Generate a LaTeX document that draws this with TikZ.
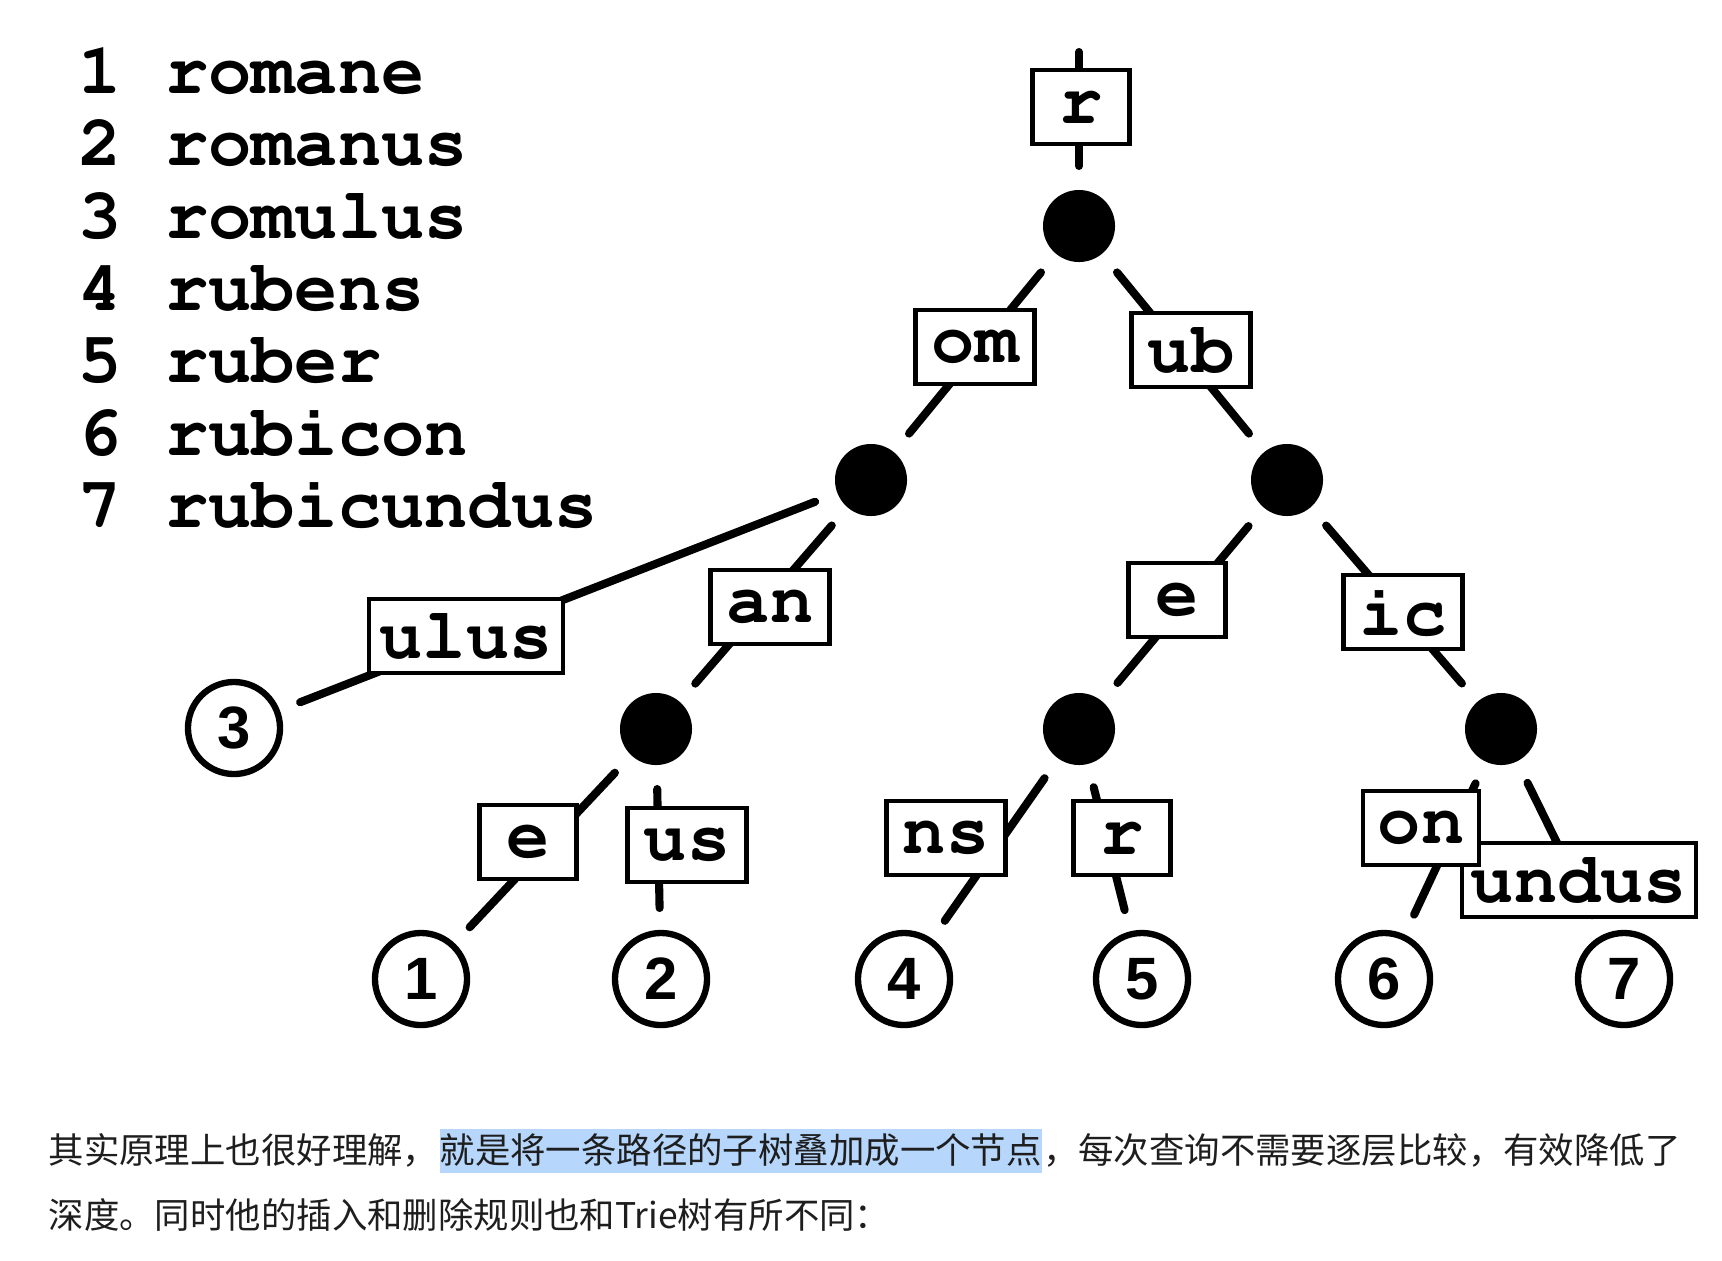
\documentclass[tikz,border=0pt]{standalone}
\usepackage[T1]{fontenc}
\usepackage{fontspec}
\usepackage{tikz}
\newfontfamily\cjkfont{Noto Sans CJK SC}
\newfontfamily\leaffont{Liberation Sans}
\newcommand\courbf{\fontencoding{T1}\fontfamily{pcr}\fontseries{b}\fontshape{n}\selectfont}
\definecolor{txtgray}{RGB}{30,30,30}
\definecolor{selblue}{RGB}{182,214,252}

\begin{document}
\begin{tikzpicture}[
    x=0.01cm, y=-0.01cm,
    word/.style={anchor=base west, inner sep=0pt, font=\fontsize{20.5}{24}\courbf},
    dot/.style={circle, fill=black, minimum size=0.72cm, inner sep=0pt, outer sep=0.24cm},
    leaf/.style={circle, draw, line width=1.8pt, minimum size=0.92cm, inner sep=0pt, outer sep=0.25cm, font=\fontsize{17}{19}\leaffont\bfseries},
    lbl/.style={draw, line width=1.3pt, fill=white, minimum width=1.19cm, minimum height=0.74cm, inner xsep=0.1cm, inner ysep=0pt, font=\fontsize{20.5}{24}\courbf},
    link/.style={line width=2.3pt, line cap=round},
    para/.style={anchor=base west, inner sep=0pt, text=txtgray, font=\fontsize{10.07}{12}\cjkfont}
  ]
  \useasboundingbox (0,0) rectangle (1722,1260);

  % Word list
  \node[word] (w1) at (78,93) {1 romane};
  \node[word] (w2) at (78,165) {2 romanus};
  \node[word] (w3) at (78,238) {3 romulus};
  \node[word] (w4) at (78,310) {4 rubens};
  \node[word] (w5) at (78,382) {5 ruber};
  \node[word] (w6) at (78,455) {6 rubicon};
  \node[word] (w7) at (78,527) {7 rubicundus};

  % Inner nodes
  \node[dot] (root) at (1079,226) {};
  \node[dot] (nom) at (871,480) {};
  \node[dot] (nub) at (1287,480) {};
  \node[dot] (nan) at (656,729) {};
  \node[dot] (ne) at (1079,729) {};
  \node[dot] (nic) at (1501,729) {};

  % Leaves
  \node[leaf] (l3) at (234,728) {3};
  \node[leaf] (l1) at (421,979) {1};
  \node[leaf] (l2) at (661,979) {2};
  \node[leaf] (l4) at (904,979) {4};
  \node[leaf] (l5) at (1142,979) {5};
  \node[leaf] (l6) at (1384,979) {6};
  \node[leaf] (l7) at (1624,979) {7};

  % Edges
  \coordinate (top) at (1079,52);
  \draw[link] (top) -- (root);
  \draw[link] (root) -- (nom);
  \draw[link] (root) -- (nub);
  \draw[link] (nom) -- (l3);
  \draw[link] (nom) -- (nan);
  \draw[link] (nan) -- (l1);
  \draw[link] (nan) -- (l2);
  \draw[link] (nub) -- (ne);
  \draw[link] (nub) -- (nic);
  \draw[link] (ne) -- (l4);
  \draw[link] (ne) -- (l5);
  \draw[link] (nic) -- (l6);
  \draw[link] (nic) -- (l7);

  % Edge labels
  \node[lbl, minimum width=0.97cm] (lr) at (1081,107) {r};
  \node[lbl] (lom) at (975,347) {om};
  \node[lbl] (lub) at (1191,350) {ub};
  \node[lbl, minimum width=1.94cm] (lulus) at (466,636) {ulus};
  \node[lbl] (lan) at (770,607) {an};
  \node[lbl, minimum width=0.97cm] (le1) at (528,842) {e};
  \node[lbl] (lus) at (687,845) {us};
  \node[lbl, minimum width=0.97cm] (le2) at (1177,600) {e};
  \node[lbl] (lic) at (1403,612) {ic};
  \node[lbl] (lns) at (946,838) {ns};
  \node[lbl, minimum width=0.97cm] (lr2) at (1122,838) {r};
  \node[lbl, inner xsep=0.09cm] (lundus) at (1579,880) {undus};
  \node[lbl, minimum width=1.16cm] (lon) at (1421,828) {on};

  % Text below
  \node[para] (t1a) at (48,1163) {其实原理上也很好理解，};
  \node[para, fill=selblue, text height=0.34cm, text depth=0.1cm] (t1b) at (t1a.base east) {就是将一条路径的子树叠加成一个节点};
  \node[para] (t1c) at (t1b.base east) {，每次查询不需要逐层比较，有效降低了};
  \node[para] (t2) at (48,1228) {深度。同时他的插入和删除规则也和Trie树有所不同：};
\end{tikzpicture}
\end{document}
